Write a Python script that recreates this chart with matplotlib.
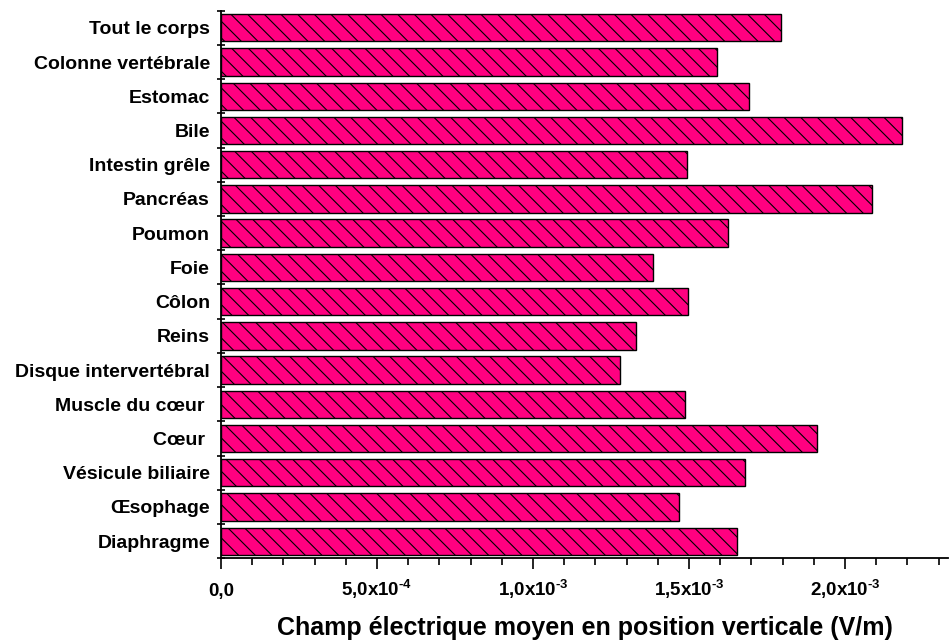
import matplotlib
matplotlib.use("Agg")
import matplotlib.pyplot as plt
from matplotlib.ticker import MultipleLocator, FixedLocator

# Data (top to bottom as shown in the chart)
organs = ["Tout le corps", "Colonne vertébrale", "Estomac", "Bile", "Intestin grêle",
          "Pancréas", "Poumon", "Foie", "Côlon", "Reins", "Disque intervertébral",
          "Muscle du cœur ", "Cœur ", "Vésicule biliaire", "Œsophage", "Diaphragme"]
field = [1.794e-3, 1.588e-3, 1.692e-3, 2.182e-3, 1.494e-3,
         2.085e-3, 1.625e-3, 1.383e-3, 1.496e-3, 1.331e-3, 1.278e-3,
         1.487e-3, 1.911e-3, 1.680e-3, 1.468e-3, 1.654e-3]
xtick_vals = [0.0, 5e-4, 1e-3, 1.5e-3, 2e-3]
xtick_labels = ["0,0", "5,0x$10^{\\text{-}4}$", "1,0x$10^{\\text{-}3}$",
                "1,5x$10^{\\text{-}3}$", "2,0x$10^{\\text{-}3}$"]

plt.rcParams['font.family'] = ['Liberation Sans', 'DejaVu Sans']
plt.rcParams['font.weight'] = 'bold'
plt.rcParams['mathtext.fontset'] = 'custom'
plt.rcParams['mathtext.rm'] = 'Liberation Sans:bold'
plt.rcParams['mathtext.default'] = 'rm'
plt.rcParams['hatch.linewidth'] = 0.8

fig = plt.figure(figsize=(9.49, 6.43), dpi=100)
ax = fig.add_axes([0.2329, 0.1317, 0.7661, 0.8517])

n = len(organs)
ypos = [n - 1 - i for i in range(n)]
ax.barh(ypos, field, height=0.8, color='#FF0080', edgecolor='black',
        linewidth=1.0, hatch='\\\\', zorder=3)

ax.set_xlim(0, 2.33e-3)
ax.set_ylim(-0.5, n - 0.5)

# y axis: labels at bar centres, small ticks between bars
ax.set_yticks(ypos)
ax.set_yticklabels(organs, fontsize=14, fontweight='bold')
ax.yaxis.set_minor_locator(FixedLocator([k + 0.5 for k in range(-1, n)]))
ax.tick_params(axis='y', which='major', length=0, pad=8)
ax.tick_params(axis='y', which='minor', direction='inout', length=6, width=1.2)

# x axis (labels share a common baseline)
ax.xaxis.set_major_locator(FixedLocator(xtick_vals))
ax.set_xticklabels(xtick_labels, fontsize=13.5, fontweight='bold', va='baseline')
ax.xaxis.set_minor_locator(MultipleLocator(1e-4))
ax.tick_params(axis='x', which='major', direction='out', length=8, width=1.2, pad=19)
ax.tick_params(axis='x', which='minor', direction='out', length=5, width=1.2)

ax.spines['top'].set_visible(False)
ax.spines['right'].set_visible(False)
ax.spines['left'].set_linewidth(1.3)
ax.spines['bottom'].set_linewidth(1.3)

ax.set_xlabel("Champ électrique moyen en position verticale (V/m)",
              fontsize=18, fontweight='bold', labelpad=11)

fig.savefig("out.png", dpi=100)
